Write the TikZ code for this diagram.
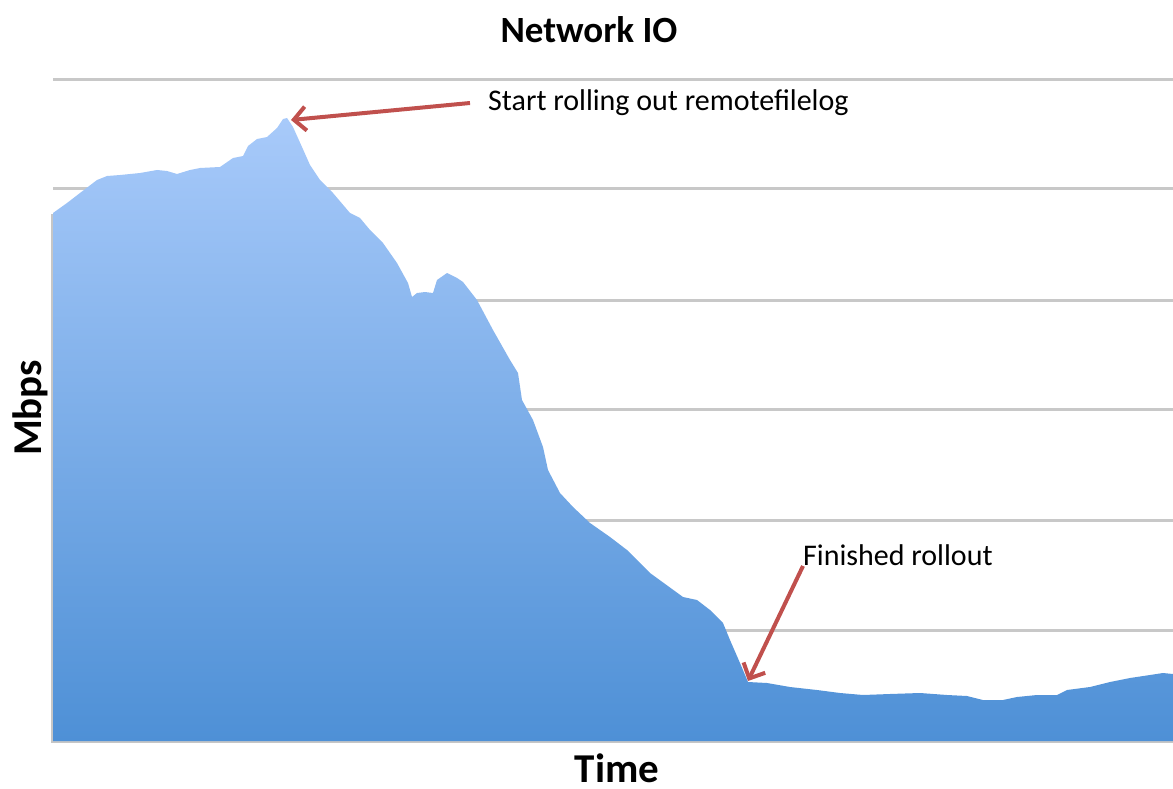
\documentclass[tikz,border=0pt]{standalone}
\usepackage{fontspec}
\setmainfont{Carlito}
\usetikzlibrary{arrows.meta}
\definecolor{gridgray}{RGB}{200,200,200}
\definecolor{arrowred}{RGB}{192,80,77}
\definecolor{filltop}{RGB}{168,202,250}
\definecolor{fillbot}{RGB}{78,144,214}
\begin{document}
\begin{tikzpicture}[x=1pt,y=-1pt,
  gridline/.style={gridgray,line width=3pt},
  callout/.style={arrowred,line width=4pt,-{Straight Barb[length=12pt,width=24pt]}},
  annot/.style={font=\fontsize{30}{36}\selectfont,text=black},
  axislabel/.style={font=\fontsize{41}{48}\selectfont\bfseries,text=black,inner sep=0pt}]
\useasboundingbox (0,0) rectangle (1173,789);
% gridlines
\foreach \gy in {80,188,300,409,520,630}
  \draw[gridline] (53,\gy) -- (1173,\gy);
% shadow
\draw[gray!45,line width=2pt] (52,214) -- (52,742) -- (1173,742);
% area
\shade[top color=filltop,bottom color=fillbot]
 (53,741) -- (53,213) -- (67,203) -- (80,193) -- (97,180) -- (107,176) -- (120,175) -- (140,173) -- (157,170) -- (167,171) -- (177,174) -- (190,170) -- (200,168) -- (220,167) -- (233,158) -- (243,156) -- (248,146) -- (257,139) -- (267,137) -- (277,128) -- (283,119) -- (287,118) -- (293,127) -- (302,147) -- (310,165) -- (320,180) -- (333,193) -- (350,213) -- (360,218) -- (370,230) -- (383,243) -- (397,263) -- (408,283) -- (412,297) -- (417,293) -- (425,292) -- (433,293) -- (437,280) -- (447,273) -- (457,278) -- (463,282) -- (477,300) -- (493,330) -- (510,360) -- (518,373) -- (522,400) -- (533,420) -- (543,447) -- (548,470) -- (560,493) -- (573,507) -- (590,523) -- (610,537) -- (627,550) -- (650,573) -- (683,597) -- (697,600) -- (710,610) -- (723,623) -- (730,640) -- (740,663) -- (748,682) -- (767,683) -- (790,687) -- (817,690) -- (840,693) -- (863,695) -- (890,694) -- (920,693) -- (947,695) -- (967,696) -- (983,700) -- (1003,700) -- (1017,697) -- (1037,695) -- (1057,695) -- (1067,690) -- (1090,687) -- (1110,682) -- (1130,678) -- (1150,675) -- (1163,673) -- (1173,674) -- (1173,741) -- cycle;
% labels
\node[font=\fontsize{37}{44}\selectfont\bfseries,inner sep=0pt] (title) at (589,30) {Network IO};
\node[axislabel] (xlab) at (617,768) {Time};
\node[axislabel,rotate=90] (ylab) at (30,408) {Mbps};
% annotations
\coordinate (peak) at (291,120);
\coordinate (trough) at (748,681);
\node[annot,anchor=west,inner xsep=18pt,inner ysep=0pt] (start) at (470,103) {Start rolling out remotefilelog};
\node[annot,anchor=south west,inner sep=0pt] (fin) at (803,566) {Finished rollout};
\draw[callout] (start.west) -- (peak);
\draw[callout] (fin.south west) -- (trough);
\end{tikzpicture}
\end{document}
